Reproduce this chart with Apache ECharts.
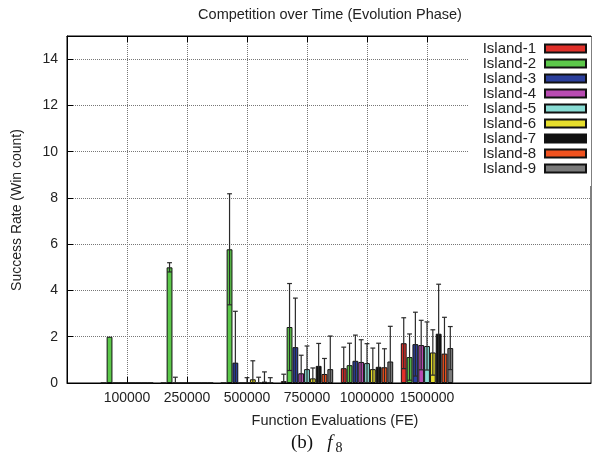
<!DOCTYPE html>
<html>
<head>
<meta charset="utf-8">
<script src="https://cdn.jsdelivr.net/npm/echarts@6/dist/echarts.min.js"></script>
<style>
    html, body { margin: 0; padding: 0; background: #fff; }
    #main { width: 596px; height: 459px; }
</style>
</head>
<body>
<div id="main"></div>
<script>
    // x categories (function evaluations)
    var categories = ['100000', '250000', '500000', '750000', '1000000', '1500000'];
    var islandNames = ['Island-1', 'Island-2', 'Island-3', 'Island-4', 'Island-5', 'Island-6', 'Island-7', 'Island-8', 'Island-9'];
    var yTicks = [0, 2, 4, 6, 8, 10, 12, 14];

    // mean win count per island, one value per category
    var island1 = [0, 0, 0, 0.08, 0.64, 1.72];
    var island2 = [2.0, 5.0, 5.78, 2.42, 0.77, 1.12];
    var island3 = [0, 0, 0.88, 1.55, 0.96, 1.68];
    var island4 = [0, 0, 0, 0.42, 0.91, 1.64];
    var island5 = [0, 0, 0, 0.6, 0.86, 1.6];
    var island6 = [0, 0, 0.16, 0.2, 0.6, 1.32];
    var island7 = [0, 0, 0, 0.74, 0.7, 2.13];
    var island8 = [0, 0, 0.06, 0.39, 0.68, 1.27];
    var island9 = [0, 0, 0, 0.6, 0.93, 1.51];

    // std deviation (error bar half length)
    var island1Err = [0, 0, 0, 0.3, 0.91, 1.1];
    var island2Err = [0, 0.2, 2.4, 1.88, 0.95, 1.0];
    var island3Err = [0, 0.25, 2.22, 2.12, 1.11, 1.38];
    var island4Err = [0, 0, 0, 0.78, 0.96, 1.07];
    var island5Err = [0, 0, 0.23, 1.0, 0.84, 1.04];
    var island6Err = [0, 0, 0.8, 0.45, 0.91, 0.98];
    var island7Err = [0, 0, 0.25, 0.97, 1.02, 2.14];
    var island8Err = [0, 0, 0.42, 0.67, 0.8, 1.57];
    var island9Err = [0, 0, 0.23, 1.43, 1.52, 0.93];

    var means = [island1, island2, island3, island4, island5, island6, island7, island8, island9];
    var errs = [island1Err, island2Err, island3Err, island4Err, island5Err, island6Err, island7Err, island8Err, island9Err];
    var colors = ['#e0302a', '#5cc84a', '#2b3f9c', '#b84bb2', '#88dcd4', '#e6de2c', '#111111', '#f0521f', '#7a7a7a'];

    var BAR = 0.097; // bar width as a fraction of one category step
    var FONT = 'Liberation Sans, Arial, Helvetica, sans-serif';

    var chart = echarts.init(document.getElementById('main'));

    var series = [];
    means.forEach(function (arr, k) {
        series.push({
            name: islandNames[k],
            type: 'bar',
            barWidth: (BAR * 100) + '%',
            barGap: '0%',
            z: 3,
            itemStyle: { color: colors[k], borderColor: '#111', borderWidth: 1 },
            data: arr.map(function (v, i) { return [i, v]; })
        });
    });

    var errData = [];
    means.forEach(function (arr, k) {
        arr.forEach(function (v, i) { errData.push([i, k, v, errs[k][i]]); });
    });

    series.push({
        type: 'custom',
        z: 4,
        silent: true,
        data: errData,
        encode: { x: 0, y: 2 },
        renderItem: function (params, api) {
            var g = api.value(0), k = api.value(1), m = api.value(2), e = api.value(3);
            if (!(e > 0)) return;
            var x = g + (k - 4) * BAR;
            var top = api.coord([x, m + e]);
            var low = api.coord([x, Math.max(0, m - e)]);
            var half = api.size([BAR, 0])[0] / 2 - 0.5;
            var st = { stroke: '#2a2a2a', lineWidth: 1.2 };
            var kids = [
                { type: 'line', shape: { x1: top[0], y1: top[1], x2: low[0], y2: low[1] }, style: st },
                { type: 'line', shape: { x1: top[0] - half, y1: top[1], x2: top[0] + half, y2: top[1] }, style: st }
            ];
            if (m - e > 0) {
                kids.push({ type: 'line', shape: { x1: low[0] - half, y1: low[1], x2: low[0] + half, y2: low[1] }, style: st });
            }
            return { type: 'group', children: kids };
        }
    });

    var xCommon = {
        type: 'value',
        min: -1,
        max: 7.733,
        interval: 1,
        axisLine: { onZero: false, lineStyle: { color: '#000', width: 1 } },
        axisTick: { inside: true, length: 6, customValues: [0, 1, 2, 3, 4, 5], lineStyle: { color: '#000' } }
    };

    chart.setOption({
        animation: false,
        textStyle: { fontFamily: FONT },
        grid: { left: 67, right: 5, top: 36, bottom: 76, show: true, borderColor: '#000', borderWidth: 1 },
        legend: {
            data: islandNames,
            orient: 'vertical',
            align: 'right',
            icon: 'rect',
            right: 5,
            top: 37,
            padding: [4, 4, 10, 14],
            backgroundColor: '#fff',
            itemWidth: 41,
            itemHeight: 8,
            itemGap: 0,
            textStyle: { fontSize: 15, color: '#222', lineHeight: 15, padding: [0, 4, 0, 0] }
        },
        xAxis: [
            Object.assign({}, xCommon, {
                position: 'bottom',
                axisLabel: {
                    customValues: [0, 1, 2, 3, 4, 5],
                    fontSize: 14, color: '#222', margin: 8,
                    formatter: function (v) { return categories[Math.round(v)] || ''; }
                },
                splitLine: { show: true, lineStyle: { type: 'dotted', color: '#777', width: 1 } }
            }),
            Object.assign({}, xCommon, {
                position: 'top',
                axisLabel: { show: false },
                splitLine: { show: false }
            })
        ],
        yAxis: {
            type: 'value',
            min: 0,
            max: 15,
            interval: 2,
            axisLine: { show: true, onZero: false, lineStyle: { color: '#000' } },
            axisTick: { inside: true, length: 6, lineStyle: { color: '#000' } },
            axisLabel: {
                fontSize: 14, color: '#222', margin: 9,
                formatter: function (v) { return yTicks.indexOf(v) >= 0 ? String(v) : ''; }
            },
            splitLine: { show: true, lineStyle: { type: 'dotted', color: '#777', width: 1 } }
        },
        graphic: [
            { type: 'text', x: 330, y: 15, style: { text: 'Competition over Time (Evolution Phase)', font: '14.5px ' + FONT, fill: '#222', align: 'center', verticalAlign: 'middle' } },
            { type: 'text', x: 335, y: 421, style: { text: 'Function Evaluations (FE)', font: '14.5px ' + FONT, fill: '#222', align: 'center', verticalAlign: 'middle' } },
            { type: 'text', x: 17, y: 210, rotation: Math.PI / 2, style: { text: 'Success Rate (Win count)', font: '14px ' + FONT, fill: '#222', align: 'center', verticalAlign: 'middle' } },
            { type: 'text', x: 302, y: 443, style: { text: '(b)', font: '19px Liberation Serif, DejaVu Serif, serif', fill: '#111', align: 'center', verticalAlign: 'middle' } },
            { type: 'text', x: 330, y: 443, style: { text: 'f', font: 'italic 19px Liberation Serif, DejaVu Serif, serif', fill: '#111', align: 'center', verticalAlign: 'middle' } },
            { type: 'text', x: 339, y: 448, style: { text: '8', font: '14px Liberation Serif, DejaVu Serif, serif', fill: '#111', align: 'center', verticalAlign: 'middle' } }
        ],
        series: series
    });
</script>
</body>
</html>
